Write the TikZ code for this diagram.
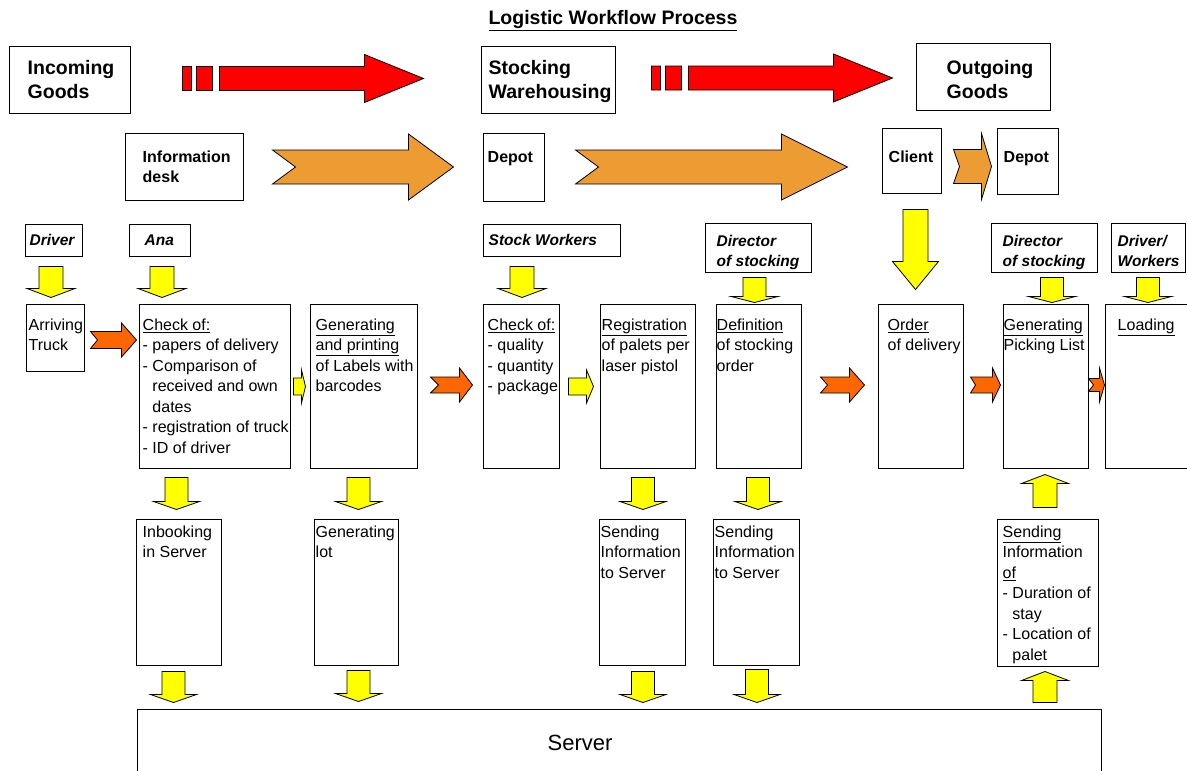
\documentclass[tikz,border=0pt]{standalone}
\usepackage{fontspec}
\setmainfont{Liberation Sans}
\usetikzlibrary{positioning}
\usetikzlibrary{calc}

\definecolor{arrred}{RGB}{255,0,0}
\definecolor{arrorange}{RGB}{236,156,50}
\definecolor{arrdeep}{RGB}{255,102,0}
\definecolor{arryellow}{RGB}{255,255,0}

\tikzset{
  pbox/.style 2 args={draw, line width=1pt, fill=white, inner sep=0pt, minimum width=#1pt, minimum height=#2pt},
  bigtxt/.style={font=\fontsize{19.5}{24}\selectfont\bfseries, align=left, anchor=north west, inner sep=0pt},
  midtxt/.style={font=\fontsize{16}{20}\selectfont\bfseries, align=left, anchor=north west, inner sep=0pt},
  roletxt/.style={font=\fontsize{15.5}{20}\selectfont\bfseries\itshape, align=left, anchor=north west, inner sep=0pt},
  proctxt/.style={font=\fontsize{16}{20.5}\selectfont, align=left, anchor=north west, inner sep=0pt},
  redarr/.style={draw=black, line width=0.8pt, fill=arrred},
  orangearr/.style={draw=black, line width=0.8pt, fill=arrorange},
  deeparr/.style={draw=black, line width=0.8pt, fill=arrdeep},
  yellowarr/.style={draw=black, line width=0.8pt, fill=arryellow}
}

% block arrow to the right: style, from, to, shaft half, head half, head length, notch
\newcommand{\harrow}[7]{%
  \path[#1] let \p1=#2, \p2=#3 in
    (\x1,\y1+#4) -- (\x2-#6,\y1+#4) -- (\x2-#6,\y1+#5) -- (\x2,\y1)
    -- (\x2-#6,\y1-#5) -- (\x2-#6,\y1-#4) -- (\x1,\y1-#4) -- (\x1+#7,\y1) -- cycle;}
% block arrow up or down: style, from, to, shaft half, head half, head length
\newcommand{\varrow}[6]{%
  \path[#1] let \p1=#2, \p2=#3, \n1={sign(\y2-\y1)}, \n2={\y2-\n1*#6} in
    (\x1-#4,\y1) -- (\x1-#4,\n2) -- (\x1-#5,\n2) -- (\x1,\y2)
    -- (\x1+#5,\n2) -- (\x1+#4,\n2) -- (\x1+#4,\y1) -- cycle;}
% red arrow with two squares at the tail
\newcommand{\redarrow}[2]{%
  \path[redarr] let \p1=#1, \p2=#2 in
    (\x1,\y1-12pt) rectangle (\x1+9pt,\y1+12pt)
    (\x1+14pt,\y1-12pt) rectangle (\x1+30pt,\y1+12pt)
    (\x1+37pt,\y1+12pt) -- (\x2-59pt,\y1+12pt) -- (\x2-59pt,\y1+24pt) -- (\x2,\y1)
    -- (\x2-59pt,\y1-24pt) -- (\x2-59pt,\y1-12pt) -- (\x1+37pt,\y1-12pt) -- cycle;}

\begin{document}
\begin{tikzpicture}[x=1pt,y=-1pt]
\useasboundingbox (0,0) rectangle (1187,771);
\clip (0,0) rectangle (1187,771);

\node[font=\fontsize{19.5}{23}\selectfont\bfseries](title) at (613,21){\underline{Logistic Workflow Process}};

\node[pbox={121}{67}](ingoods) at (69.5,79.5){};
\node[pbox={134}{67}](stock) at (548,79.5){};
\node[pbox={134}{67}](outgoods) at (983,76.5){};
\node[pbox={118}{67}](info) at (184,166.5){};
\node[pbox={61}{68}](depot1) at (513.5,167){};
\node[pbox={59}{65}](client) at (911.5,160.5){};
\node[pbox={61}{66}](depot2) at (1027.5,161){};

\node[pbox={57}{32}](driver) at (53.5,240){};
\node[pbox={61}{32}](ana) at (159.5,240){};
\node[pbox={137}{32}](stockw) at (551.5,240){};
\node[pbox={106}{49}](dir1) at (758,247.5){};
\node[pbox={106}{49}](dir2) at (1044,247.5){};
\node[pbox={74}{49}](drvw) at (1148,247.5){};

\node[pbox={58}{67}](truck) at (55,337.5){};
\node[pbox={151}{164}](chka) at (214.5,386){};
\node[pbox={107}{164}](genp) at (363.5,386){};
\node[pbox={76}{164}](chks) at (521,386){};
\node[pbox={95}{164}](reg) at (647.5,386){};
\node[pbox={85}{164}](defn) at (758.5,386){};
\node[pbox={85}{164}](order) at (920.5,386){};
\node[pbox={85}{164}](genpl) at (1045.5,386){};
\node[pbox={95}{164}](load) at (1152.5,386){};

\node[pbox={85}{146}](inb) at (178.5,592){};
\node[pbox={84}{146}](lot) at (356,592){};
\node[pbox={86}{146}](send1) at (642,592){};
\node[pbox={86}{146}](send2) at (756,592){};
\node[pbox={101}{147}](send3) at (1047.5,592.5){};
\node[pbox={964}{91}](server) at (619,754.5){};

\node[bigtxt](ingoodst) at ($(ingoods.north west)+(19,15)$){Incoming\\Goods};
\node[bigtxt](stockt) at ($(stock.north west)+(8,15)$){Stocking\\Warehousing};
\node[bigtxt](outgoodst) at ($(outgoods.north west)+(31,18)$){Outgoing\\Goods};
\node[midtxt](infot) at ($(info.north west)+(18,18)$){Information\\desk};
\node[midtxt](depot1t) at ($(depot1.north west)+(5,18.5)$){Depot};
\node[midtxt](clientt) at ($(client.north west)+(7,23.5)$){Client};
\node[midtxt](depot2t) at ($(depot2.north west)+(7,23.5)$){Depot};

\node[roletxt](drivert) at ($(driver.north west)+(5,11)$){Driver};
\node[roletxt](anat) at ($(ana.north west)+(16,11)$){Ana};
\node[roletxt](stockwt) at ($(stockw.north west)+(6,11)$){Stock Workers};
\node[roletxt](dir1t) at ($(dir1.north west)+(12,13)$){Director\\of stocking};
\node[roletxt](dir2t) at ($(dir2.north west)+(12,13)$){Director\\of stocking};
\node[roletxt](drvwt) at ($(drvw.north west)+(7,13)$){Driver/\\Workers};

\node[proctxt](truckt) at ($(truck.north west)+(3,15)$){Arriving\\Truck};
\node[proctxt](chkat) at ($(chka.north west)+(4,15)$){\underline{Check of:}\\- papers of delivery\\- Comparison of\\\phantom{- }received and own\\\phantom{- }dates\\- registration of truck\\- ID of driver};
\node[proctxt](genpt) at ($(genp.north west)+(6,15)$){\underline{Generating}\\\underline{and printing}\\of Labels with\\barcodes};
\node[proctxt](chkst) at ($(chks.north west)+(5,15)$){\underline{Check of:}\\- quality\\- quantity\\- package};
\node[proctxt](regt) at ($(reg.north west)+(2,15)$){\underline{Registration}\\of palets per\\laser pistol};
\node[proctxt](defnt) at ($(defn.north west)+(1,15)$){\underline{Definition}\\of stocking\\order};
\node[proctxt](ordert) at ($(order.north west)+(10,15)$){\underline{Order}\\of delivery};
\node[proctxt](genplt) at ($(genpl.north west)+(1,15)$){\underline{Generating}\\Picking List};
\node[proctxt](loadt) at ($(load.north west)+(13,15)$){\underline{Loading}};
\node[proctxt](inbt) at ($(inb.north west)+(7,7)$){Inbooking\\in Server};
\node[proctxt](lott) at ($(lot.north west)+(2,7)$){Generating\\lot};
\node[proctxt](send1t) at ($(send1.north west)+(2,7)$){Sending\\Information\\to Server};
\node[proctxt](send2t) at ($(send2.north west)+(2,7)$){Sending\\Information\\to Server};
\node[proctxt](send3t) at ($(send3.north west)+(6,7)$){\underline{Sending}\\Information\\\underline{of}\\- Duration of\\\phantom{- }stay\\- Location of\\\phantom{- }palet};
\node[font=\fontsize{22}{26}\selectfont](servert) at ($(server.north)+(-39,34)$){Server};

\redarrow{($(ingoods.east)+(52,-1)$)}{($(stock.west)+(-57,0)$)}
\redarrow{($(stock.east)+(36,-1.5)$)}{($(outgoods.west)+(-23,0)$)}

\harrow{orangearr}{($(info.east)+(29,0.5)$)}{($(depot1.west)+(-29,0)$)}{17pt}{33pt}{45pt}{23pt}
\harrow{orangearr}{($(depot1.east)+(31,0)$)}{($(client.west)+(-34,0)$)}{17pt}{33pt}{66pt}{23pt}
\harrow{orangearr}{($(client.east)+(12,6)$)}{($(depot2.west)+(-5,0)$)}{17pt}{33pt}{10pt}{6pt}

\varrow{yellowarr}{($(client.south)+(4,16)$)}{($(order.north)+(-5,-14)$)}{12.5pt}{23pt}{28pt}

\varrow{yellowarr}{($(driver.south)+(-2.5,10)$)}{($(truck.north)+(0,-6)$)}{12pt}{24pt}{9pt}
\varrow{yellowarr}{($(ana.south)+(2.5,10)$)}{($(chka.north)+(0,-6)$)}{12pt}{24pt}{9pt}
\varrow{yellowarr}{($(stockw.south -| chks.north)+(1,10)$)}{($(chks.north)+(0,-6)$)}{12pt}{24pt}{9pt}
\varrow{yellowarr}{($(dir1.south)+(-3.5,5)$)}{($(defn.north)+(0,-1)$)}{11.5pt}{23.5pt}{6pt}
\varrow{yellowarr}{($(dir2.south)+(8,5)$)}{($(genpl.north)+(0,-1)$)}{11.5pt}{23.5pt}{6pt}
\varrow{yellowarr}{($(drvw.south)+(0,5)$)}{($(load.north)+(0,-1)$)}{11.5pt}{23.5pt}{6pt}

\harrow{deeparr}{($(truck.east)+(6,2.5)$)}{($(chka.west)+(-2,0)$)}{8.5pt}{17pt}{15pt}{7pt}
\harrow{yellowarr}{($(chka.east)+(3,0.5)$)}{($(genp.west)+(-4,0)$)}{8.5pt}{16.5pt}{4pt}{0pt}
\harrow{deeparr}{($(genp.east)+(13,-1)$)}{($(chks.west)+(-10,0)$)}{8pt}{17pt}{13pt}{8pt}
\harrow{yellowarr}{($(chks.east)+(9,0.5)$)}{($(reg.west)+(-6,0)$)}{8.5pt}{16.5pt}{7pt}{0pt}
\harrow{deeparr}{($(defn.east)+(19,-1)$)}{($(order.west)+(-13,0)$)}{8pt}{17pt}{15pt}{7pt}
\harrow{deeparr}{($(order.east)+(7,-1)$)}{($(genpl.west)+(-2,0)$)}{8pt}{17pt}{8pt}{5pt}
\harrow{deeparr}{($(genpl.east)+(0,-1)$)}{(load.west)}{6.5pt}{17pt}{5pt}{5pt}

\varrow{yellowarr}{($(chka.south -| inb.north)+(-2,9)$)}{($(inb.north)+(0,-9)$)}{11.5pt}{23pt}{8pt}
\varrow{yellowarr}{($(inb.south)+(-5,6)$)}{($(server.north)+(0,-6)$)}{11.5pt}{23pt}{8pt}
\varrow{yellowarr}{($(genp.south -| lot.north)+(2.5,9)$)}{($(lot.north)+(0,-9)$)}{11.5pt}{23pt}{8pt}
\varrow{yellowarr}{($(lot.south)+(2.5,5)$)}{($(server.north)+(0,-7)$)}{11.5pt}{23pt}{8pt}
\varrow{yellowarr}{($(reg.south -| send1.north)+(1,9)$)}{($(send1.north)+(0,-9)$)}{11.5pt}{23pt}{8pt}
\varrow{yellowarr}{($(send1.south)+(1,6)$)}{($(server.north)+(0,-6)$)}{11.5pt}{23pt}{8pt}
\varrow{yellowarr}{($(defn.south -| send2.north)+(2,9)$)}{($(send2.north)+(0,-9)$)}{11.5pt}{23pt}{8pt}
\varrow{yellowarr}{($(send2.south)+(1,4)$)}{($(server.north)+(0,-6)$)}{11.5pt}{23pt}{8pt}
\varrow{yellowarr}{($(send3.north)+(-2.5,-11)$)}{($(genpl.south)+(0,6)$)}{12pt}{23.5pt}{9pt}
\varrow{yellowarr}{($(server.north -| send3.north)+(-2.5,-6)$)}{($(send3.south)+(0,5)$)}{12pt}{23.5pt}{9pt}
\end{tikzpicture}
\end{document}
